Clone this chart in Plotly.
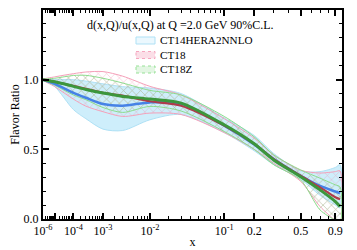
import plotly.graph_objects as go

# ---------------- data ----------------
x_vals = [1e-6, 1e-5, 1e-4, 3e-4, 1e-3, 3e-3, 1e-2, 3e-2, 0.1, 0.2, 0.3, 0.5, 0.7, 0.9, 0.97]

ct14_central = [1.0, 0.97, 0.905, 0.87, 0.825, 0.813, 0.837, 0.827, 0.67, 0.535, 0.43, 0.31, 0.237, 0.197, 0.185]
ct14_upper   = [1.0, 1.0, 1.0, 0.99, 0.97, 0.95, 0.94, 0.90, 0.725, 0.60, 0.47, 0.345, 0.34, 0.37, 0.39]
ct14_lower   = [1.0, 0.95, 0.785, 0.72, 0.645, 0.635, 0.712, 0.75, 0.62, 0.49, 0.39, 0.285, 0.17, 0.10, 0.08]

ct18_central = [1.0, 0.985, 0.955, 0.935, 0.905, 0.885, 0.845, 0.813, 0.67, 0.54, 0.43, 0.31, 0.227, 0.156, 0.142]
ct18_upper   = [1.0, 1.02, 1.043, 1.055, 1.058, 1.025, 0.952, 0.89, 0.72, 0.58, 0.46, 0.35, 0.33, 0.34, 0.345]
ct18_lower   = [1.0, 0.95, 0.86, 0.81, 0.77, 0.736, 0.76, 0.75, 0.62, 0.50, 0.40, 0.27, 0.09, -0.01, -0.03]

ct18z_central = [1.0, 0.985, 0.952, 0.93, 0.904, 0.88, 0.861, 0.832, 0.676, 0.54, 0.424, 0.304, 0.209, 0.125, 0.09]
ct18z_upper   = [1.0, 1.01, 1.03, 1.031, 1.01, 0.976, 0.923, 0.89, 0.736, 0.59, 0.46, 0.352, 0.293, 0.245, 0.23]
ct18z_lower   = [1.0, 0.96, 0.89, 0.856, 0.80, 0.765, 0.808, 0.775, 0.628, 0.50, 0.39, 0.28, 0.065, -0.01, -0.03]

series_names = ['CT14HERA2NNLO', 'CT18', 'CT18Z']

major_ticks = [1e-6, 1e-5, 1e-4, 1e-3, 1e-2, 1e-1, 0.2, 0.5, 0.9]
major_labels = ['10<sup>-6</sup>', '', '10<sup>-4</sup>', '10<sup>-3</sup>', '10<sup>-2</sup>',
                '10<sup>-1</sup>', '0.2', '0.5', '0.9']
minor_mult = [2, 3, 4, 5, 6, 7, 8, 9]
decades = [1e-6, 1e-5, 1e-4, 1e-3, 1e-2, 1e-1]

legend_title = 'd(x,Q)/u(x,Q) at Q =2.0 GeV 90%C.L.'

# ---------------- scale: x^0.2 ----------------
P = 0.2
def T(v):
    return v ** P

tx = [T(v) for v in x_vals]
minor_vals = [T(d * m) for d in decades for m in minor_mult
              if T(d * m) <= 1.0 and round(d * m, 8) not in (0.2, 0.5, 0.9)]

FONT = 'Times New Roman, Liberation Serif, Tinos, serif'

# the page body has an 8px margin, so the figure is shrunk and offset by it
OFF = 8
W, H = 357 - OFF, 250 - OFF
# plot area in window pixels
L, R, TOP, BOT = 43, 342, 10, 219
def px(xp):
    return (xp - L) / (R - L)
def py(yp):
    return 1 - (yp - TOP) / (BOT - TOP)

fig = go.Figure()

def band(upper, lower, name, line_col, fillcolor=None, pattern=None):
    xs = tx + tx[::-1]
    ys = upper + lower[::-1]
    kw = dict(x=xs, y=ys, mode='lines', fill='toself', name=name, showlegend=False,
              line=dict(color=line_col, width=1, shape='spline', smoothing=0.8),
              hoverinfo='skip')
    if pattern is not None:
        kw['fillpattern'] = pattern
        kw['fillcolor'] = 'rgba(0,0,0,0)'
    else:
        kw['fillcolor'] = fillcolor
    fig.add_trace(go.Scatter(**kw))

band(ct14_upper, ct14_lower, series_names[0], 'rgb(175,225,245)', fillcolor='rgba(190,232,250,0.75)')
band(ct18_upper, ct18_lower, series_names[1], 'rgb(245,160,185)',
     pattern=dict(shape='x', fgcolor='rgb(238,140,170)', bgcolor='rgba(0,0,0,0)', size=6, solidity=0.2))
band(ct18z_upper, ct18z_lower, series_names[2], 'rgb(140,220,140)',
     pattern=dict(shape='x', fgcolor='rgb(120,205,120)', bgcolor='rgba(0,0,0,0)', size=6, solidity=0.2))

def central(vals, col, w):
    fig.add_trace(go.Scatter(x=tx, y=vals, mode='lines', showlegend=False, hoverinfo='skip',
                             line=dict(color=col, width=w, shape='spline', smoothing=0.8)))

central(ct14_central, 'rgb(70,130,230)', 2.5)
central(ct18_central, 'rgb(175,60,75)', 2.2)
central(ct18z_central, 'rgb(60,150,60)', 3)

# ---------------- legend (drawn as title + swatches + labels) ----------------
fig.add_annotation(x=px(85), y=py(25), xref='paper', yref='paper',
                   xanchor='left', yanchor='middle', text=legend_title, showarrow=False,
                   font=dict(family=FONT, size=12, color='black'))

swatch_styles = [
    dict(line=dict(color='rgb(175,225,245)', width=1), fillcolor='rgba(235,248,254,1)'),
    dict(line=dict(color='rgb(245,165,190)', width=1, dash='dot'), fillcolor='rgba(248,200,215,0.6)'),
    dict(line=dict(color='rgb(150,225,150)', width=1, dash='dot'), fillcolor='rgba(200,238,200,0.5)'),
]
rows = [40.5, 55, 69.5]
for style, yr in zip(swatch_styles, rows):
    fig.add_shape(type='rect', xref='paper', yref='paper',
                  x0=px(136), x1=px(155), y0=py(yr - 3.5), y1=py(yr + 3.5), **style)
# labels as one multi-line text block
fig.add_annotation(x=px(159), y=py(rows[0] - 7.5), xref='paper', yref='paper', xanchor='left',
                   yanchor='top', align='left', text='<br>'.join(series_names), showarrow=False,
                   borderpad=0, font=dict(family=FONT, size=11.2, color='black'))

axis_common = dict(showgrid=False, zeroline=False, showline=True, linecolor='black', linewidth=2,
                   mirror='ticks', ticks='inside', tickcolor='black', tickwidth=1.5, ticklen=6,
                   tickfont=dict(family=FONT, size=12, color='black'))

fig.update_xaxes(range=[T(1e-6), 1.0], tickmode='array', tickvals=[T(v) for v in major_ticks],
                 ticktext=major_labels,
                 minor=dict(tickmode='array', tickvals=minor_vals, ticks='inside', ticklen=3,
                            tickcolor='black', tickwidth=1),
                 title=dict(text='x', font=dict(family=FONT, size=12, color='black'), standoff=0),
                 **axis_common)
fig.update_yaxes(range=[0, 1.5], tickmode='array', tickvals=[0, 0.5, 1.0, 1.5],
                 ticktext=['0.0', '0.5', '1.0', '1.5'],
                 minor=dict(dtick=0.1, tick0=0, ticks='inside', ticklen=3, tickcolor='black', tickwidth=1),
                 title=dict(text='Flavor Ratio', font=dict(family=FONT, size=12, color='black'), standoff=8),
                 **axis_common)

fig.update_layout(
    width=W, height=H,
    margin=dict(l=L - OFF, r=357 - R, t=TOP - OFF, b=250 - BOT, autoexpand=False),
    paper_bgcolor='white', plot_bgcolor='white',
    font=dict(family=FONT, size=12, color='black'),
    showlegend=False,
)

fig.write_html('out.html')
